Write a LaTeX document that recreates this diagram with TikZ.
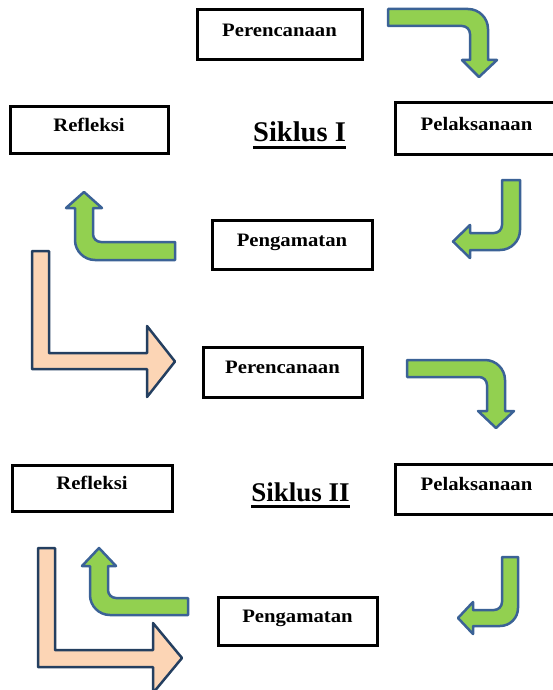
\documentclass[tikz,border=0pt]{standalone}
\usepackage{fontspec}
\setmainfont{Liberation Serif}
\newfontfamily\kotakfont{Liberation Serif}[FakeStretch=1.09]
\definecolor{hijau}{HTML}{92D050}
\definecolor{garishijau}{HTML}{3B6296}
\definecolor{krem}{HTML}{FCD5B5}
\definecolor{gariskrem}{HTML}{243F60}

\begin{document}
\begin{tikzpicture}[x=1pt,y=-1pt,
  kotak/.style={draw,line width=3pt,inner sep=0pt,text height=12pt,text depth=9pt,
    font=\kotakfont\bfseries\fontsize{19}{22}\selectfont},
  siklus/.style={inner sep=0pt,anchor=base,font=\bfseries\fontsize{28.5}{32}\selectfont},
  panahhijau/.style={fill=hijau,draw=garishijau,line width=2.5pt,line join=round},
  panahkrem/.style={fill=krem,draw=gariskrem,line width=2.5pt,line join=round}]

  \useasboundingbox (0,0) rectangle (553,690);
  \clip (0,0) rectangle (553,690);

  % Siklus I
  \node [kotak,minimum width=165pt,minimum height=50pt] (per1) at (279.5,35) {Perencanaan};
  \node [kotak,minimum width=163pt,minimum height=51pt] (pel1) at (476.5,128.5) {Pelaksanaan};
  \node [kotak,minimum width=158pt,minimum height=46pt] (ref1) at (89,130) {Refleksi};
  \node [kotak,minimum width=160pt,minimum height=49pt] (pen1) at (292,244.5) {Pengamatan};
  \node [siklus] (sik1) at (299.5,142) {Siklus I};
  \draw [line width=3pt] ([yshift=-5pt]sik1.base west) -- ([yshift=-5pt]sik1.base east);

  % Siklus II
  \node [kotak,minimum width=159pt,minimum height=50pt] (per2) at (282.5,372) {Perencanaan};
  \node [kotak,minimum width=163pt,minimum height=50pt] (pel2) at (476.5,489) {Pelaksanaan};
  \node [kotak,minimum width=160pt,minimum height=46pt] (ref2) at (92,488) {Refleksi};
  \node [kotak,minimum width=159pt,minimum height=48pt] (pen2) at (297.5,621) {Pengamatan};
  \node [siklus,font=\bfseries\fontsize{27}{30}\selectfont] (sik2) at (300.5,501) {Siklus II};
  \draw [line width=3pt] ([yshift=-5pt]sik2.base west) -- ([yshift=-5pt]sik2.base east);

  % panah siklus I
  \draw [panahhijau] (388,9) -- (468,9) .. controls (479,9) and (488,18) .. (488,29)
    -- (488,60) -- (497,60) -- (479,77) -- (462,60) -- (470,60) -- (470,34)
    .. controls (470,29.6) and (466.4,26) .. (462,26) -- (388,26) -- cycle;
  \draw [panahhijau] (502,180) -- (520,180) -- (520,230) .. controls (520,241) and (511,250) .. (500,250)
    -- (470,250) -- (470,258) -- (453,241.5) -- (470,225) -- (470,233) -- (494,233)
    .. controls (498.4,233) and (502,229.4) .. (502,225) -- cycle;
  \draw [panahhijau] (175,242) -- (101,242) .. controls (96.6,242) and (93,238.4) .. (93,234)
    -- (93,208) -- (102,208) -- (84,192) -- (66,208) -- (75,208) -- (75,240)
    .. controls (75,251) and (84,260) .. (95,260) -- (175,260) -- cycle;
  \draw [panahkrem] (32,251) -- (49,251) -- (49,353) -- (147,353) -- (147,326) -- (175,361.5)
    -- (147,397) -- (147,369) -- (32,369) -- cycle;

  % panah siklus II
  \draw [panahhijau] (407,360) -- (485,360) .. controls (496,360) and (505,369) .. (505,380)
    -- (505,411) -- (514,411) -- (496,428) -- (478,411) -- (487,411) -- (487,385)
    .. controls (487,380.6) and (483.4,377) .. (479,377) -- (407,377) -- cycle;
  \draw [panahhijau] (502,557) -- (518,557) -- (518,608) .. controls (518,618) and (510,626) .. (500,626)
    -- (473,626) -- (473,634) -- (458,618) -- (473,602) -- (473,610) -- (494,610)
    .. controls (498.4,610) and (502,606.4) .. (502,602) -- cycle;
  \draw [panahhijau] (188,598) -- (116,598) .. controls (111.6,598) and (108,594.4) .. (108,590)
    -- (108,566) -- (116,566) -- (99,548) -- (82,566) -- (90,566) -- (90,595)
    .. controls (90,606) and (99,615) .. (110,615) -- (188,615) -- cycle;
  \draw [panahkrem] (38,548) -- (55,548) -- (55,650) -- (153,650) -- (153,623) -- (182,658)
    -- (153,693) -- (153,667) -- (38,667) -- cycle;
\end{tikzpicture}
\end{document}
